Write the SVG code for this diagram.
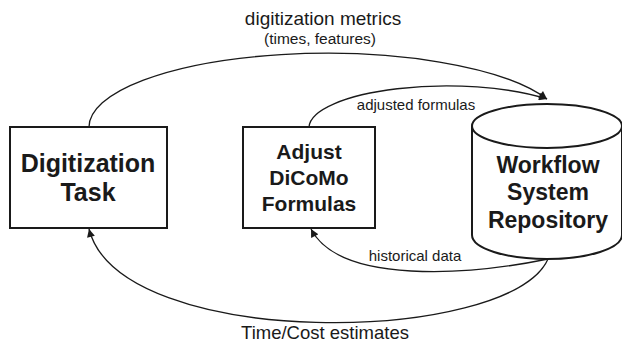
<svg xmlns="http://www.w3.org/2000/svg" width="622" height="348" viewBox="0 0 622 348">
<style>
.box{fill:#fff;stroke:#1a1a1a;stroke-width:2}
.conn{fill:none;stroke:#1a1a1a;stroke-width:1.3}
.big{font-family:"Liberation Sans",Arial,sans-serif;font-weight:bold;fill:#1a1a1a;text-anchor:middle}
.lbl{font-family:"Liberation Sans",Arial,sans-serif;fill:#1a1a1a;text-anchor:middle}
</style>
<defs>
<marker id="arr" viewBox="0 0 10 10" refX="10" refY="5" markerWidth="10" markerHeight="8" markerUnits="userSpaceOnUse" orient="auto">
<path d="M0,0 L10,5 L0,10 z" fill="#1a1a1a"/>
</marker>
</defs>
<rect width="622" height="348" fill="#fff"/>
<g id="connectors">
<path class="conn" d="M 89 127 A 238 74 0 0 1 547 99" marker-end="url(#arr)"/>
<path class="conn" d="M 309 127 A 138 42 0 0 1 547 99" marker-end="url(#arr)"/>
<path class="conn" d="M 548 259 C 470 275, 340 285, 311 229" marker-end="url(#arr)"/>
<path class="conn" d="M 548 259 C 510 345, 120 352, 89 229" marker-end="url(#arr)"/>
<text class="lbl" x="323" y="25" font-size="19">digitization metrics</text>
<text class="lbl" x="320" y="44" font-size="15.5">(times, features)</text>
<text class="lbl" x="416" y="110" font-size="15">adjusted formulas</text>
<text class="lbl" x="415" y="261" font-size="15">historical data</text>
<text class="lbl" x="325" y="339" font-size="18.5">Time/Cost estimates</text>
</g>
<g id="digitization-task">
<rect class="box" x="10" y="127" width="157" height="101"/>
<text class="big" x="88" y="172" font-size="25">Digitization</text>
<text class="big" x="88" y="201" font-size="25">Task</text>
</g>
<g id="adjust-dicomo">
<rect class="box" x="243" y="127" width="132" height="101"/>
<text class="big" x="309" y="159" font-size="21">Adjust</text>
<text class="big" x="309" y="185" font-size="21">DiCoMo</text>
<text class="big" x="309" y="211" font-size="21">Formulas</text>
</g>
<g id="workflow-repository">
<path class="box" d="M 472 126 L 472 235 A 75 24 0 0 0 622 235 L 622 126"/>
<ellipse class="box" cx="547" cy="126" rx="75" ry="22"/>
<text class="big" x="548" y="173" font-size="23">Workflow</text>
<text class="big" x="548" y="200" font-size="23">System</text>
<text class="big" x="548" y="228" font-size="23">Repository</text>
</g>
</svg>
